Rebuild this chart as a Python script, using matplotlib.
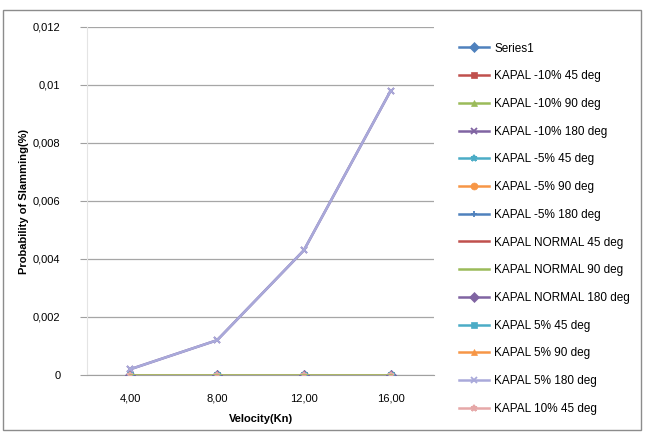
import matplotlib
matplotlib.use('Agg')
import matplotlib.pyplot as plt
from matplotlib.patches import Rectangle

# velocity categories (knots)
velocity = ['4,00', '8,00', '12,00', '16,00']

# probability of slamming per series
zeros = [0, 0, 0, 0]
kapal_180 = [0.0002, 0.0012, 0.0043, 0.0098]

series_names = ['Series1',
                'KAPAL -10% 45 deg', 'KAPAL -10% 90 deg', 'KAPAL -10% 180 deg',
                'KAPAL -5% 45 deg', 'KAPAL -5% 90 deg', 'KAPAL -5% 180 deg',
                'KAPAL NORMAL 45 deg', 'KAPAL NORMAL 90 deg', 'KAPAL NORMAL 180 deg',
                'KAPAL 5% 45 deg', 'KAPAL 5% 90 deg', 'KAPAL 5% 180 deg',
                'KAPAL 10% 45 deg']
series_values = [zeros,
                 zeros, zeros, kapal_180,
                 zeros, zeros, zeros,
                 zeros, zeros, zeros,
                 zeros, zeros, kapal_180,
                 zeros]
colors = ['#4F81BD', '#C0504D', '#9BBB59', '#8064A2', '#4BACC6', '#F79646',
          '#4F81BD', '#C0504D', '#9BBB59', '#8064A2', '#4BACC6', '#F79646',
          '#A9A9DA', '#E6A8A8']
markers = ['D', 's', '^', 'x', '*', 'o', '+', None, None, 'D', 's', '^', 'x', '*']

y_ticks = [0, 0.002, 0.004, 0.006, 0.008, 0.01, 0.012]
y_labels = ['0', '0,002', '0,004', '0,006', '0,008', '0,01', '0,012']

plt.rcParams['font.family'] = ['Liberation Sans', 'DejaVu Sans']

fig = plt.figure(figsize=(6.45, 4.38), dpi=100)
fig.patches.append(Rectangle((3/645, 8/438), 638/645, 420/438, transform=fig.transFigure,
                             fill=False, edgecolor='#8C8C8C', linewidth=1.0))

ax = fig.add_axes([87/645, 1 - 375/438, 347/645, 348/438])
x = list(range(len(velocity)))
for name, vals, c, m in zip(series_names, series_values, colors, markers):
    # the green zero line sits on top in the original
    z = 5 if name == 'KAPAL NORMAL 90 deg' else 3
    ax.plot(x, vals, color=c, marker=m, markersize=5, linewidth=1.8, zorder=z,
            markeredgewidth=1.3 if m in ('x', '+', '*') else 0.5, label=name)

ax.set_xlim(-0.5, 3.5)
ax.set_ylim(0, 0.012)
ax.set_xticks(x)
ax.set_xticklabels(velocity, fontsize=8)
ax.set_yticks(y_ticks)
ax.set_yticklabels(y_labels, fontsize=8)
ax.tick_params(axis='y', length=5, color='#A0A0A0', pad=14)
ax.tick_params(axis='x', length=0, pad=13)
ax.grid(axis='y', color='#A6A6A6', linewidth=0.9)
ax.set_axisbelow(True)
for s in ['top', 'right']:
    ax.spines[s].set_visible(False)
ax.spines['left'].set_color('#E4E4E4')
ax.spines['bottom'].set_color('#A0A0A0')

ax.set_ylabel('Probability of Slamming(%)', fontsize=8, fontweight='bold', labelpad=3)
ax.set_xlabel('Velocity(Kn)', fontsize=8, fontweight='bold', labelpad=8)

ax.legend(loc='upper left', bbox_to_anchor=(448/645, 1 - 32/438), bbox_transform=fig.transFigure,
          frameon=False, fontsize=8.5, labelspacing=1.33, handlelength=2.6, handletextpad=0.4)

fig.savefig('out.png', dpi=100)
